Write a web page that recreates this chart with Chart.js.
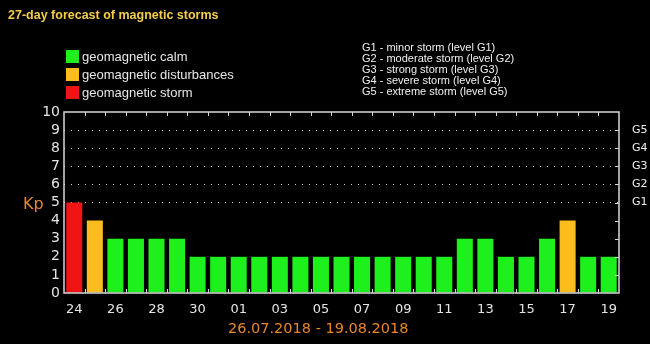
<!DOCTYPE html>
<html>
<head>
<meta charset="utf-8">
<script src="https://cdn.jsdelivr.net/npm/chart.js@4"></script>
<style>
  body { margin: 0; background: #000; }
  #wrap { position: relative; width: 650px; height: 344px; overflow: hidden; }
  #wrap canvas { position: absolute; left: 0; top: 0; }
  .txt { position: absolute; white-space: nowrap; }
  #title { left: 8px; top: 8px; font: bold 12.5px "Liberation Sans", Arial, sans-serif; color: #f2cc4c; }
  .leg { left: 66px; font: 13px "Liberation Sans", Arial, sans-serif; color: #e6e6e6; }
  .leg i { display: inline-block; width: 13px; height: 13px; vertical-align: -2px; margin-right: 3px; }
  .glev { left: 362px; font: 11px "Liberation Sans", Arial, sans-serif; color: #f0f0f0; line-height: 11px; }
  #kp { left: 23px; top: 194px; font: 16px "DejaVu Sans", sans-serif; color: #e8862c; }
  #range { left: 228px; top: 320px; font: 14.5px "DejaVu Sans", sans-serif; color: #e8862c; }
</style>
</head>
<body>
<div id="wrap">
  <canvas id="kpChart"></canvas>
  <div class="txt" id="title">27-day forecast of magnetic storms</div>
  <div class="txt leg" style="top:49px"><i style="background:#1ef01e"></i>geomagnetic calm</div>
  <div class="txt leg" style="top:67px"><i style="background:#fbbd1e"></i>geomagnetic disturbances</div>
  <div class="txt leg" style="top:85px"><i style="background:#f01414"></i>geomagnetic storm</div>
  <div class="txt glev" style="top:42px">
    G1 - minor storm (level G1)<br>
    G2 - moderate storm (level G2)<br>
    G3 - strong storm (level G3)<br>
    G4 - severe storm (level G4)<br>
    G5 - extreme storm (level G5)
  </div>
  <div class="txt" id="kp">Kp</div>
  <div class="txt" id="range">26.07.2018 - 19.08.2018</div>
</div>
<script>
// days of the forecast window, 24 Jul .. 19 Aug
let days = ['24', '25', '26', '27', '28', '29', '30', '31',
    '01', '02', '03', '04', '05', '06', '07', '08', '09', '10',
    '11', '12', '13', '14', '15', '16', '17', '18', '19'];
// forecast Kp index per day
let kpValues = [5, 4, 3, 3, 3, 3, 2, 2,
    2, 2, 2, 2, 2, 2, 2, 2, 2, 2,
    2, 3, 3, 2, 2, 3, 4, 2, 2];
// storm levels shown on the right axis, Kp 5..9
let stormLevels = ['G1', 'G2', 'G3', 'G4', 'G5'];

function kpColor(kp) {
    if (kp >= 5) return '#f01414';
    if (kp >= 4) return '#fbbd1e';
    return '#1ef01e';
}

// frame around the plot with small inward ticks
let framePlugin = {
    id: 'frame',
    afterDraw(chart) {
        let ctx = chart.ctx;
        let a = chart.chartArea;
        let y = chart.scales.y;
        ctx.save();
        ctx.strokeStyle = '#d8d8d8';
        ctx.lineWidth = 1.5;
        ctx.strokeRect(a.left, a.top, a.right - a.left, a.bottom - a.top);
        ctx.lineWidth = 1;
        ctx.beginPath();
        let step = (a.right - a.left) / days.length;
        for (let i = 1; i < days.length; i++) {
            let px = Math.round(a.left + i * step) + 0.5;
            ctx.moveTo(px, a.bottom);
            ctx.lineTo(px, a.bottom - 4);
            ctx.moveTo(px, a.top);
            ctx.lineTo(px, a.top + 4);
        }
        for (let v = 1; v < 10; v++) {
            let py = Math.round(y.getPixelForValue(v)) + 0.5;
            ctx.moveTo(a.right, py);
            ctx.lineTo(a.right - 4, py);
        }
        ctx.stroke();
        ctx.restore();
    }
};

new Chart(document.getElementById('kpChart'), {
    type: 'bar',
    data: {
        labels: days,
        datasets: [{
            data: kpValues,
            backgroundColor: kpValues.map(kpColor),
            barPercentage: 0.78,
            categoryPercentage: 1
        }]
    },
    options: {
        responsive: true,
        maintainAspectRatio: false,
        animation: false,
        layout: { padding: { top: 112, left: 0, right: 0, bottom: 0 } },
        plugins: {
            legend: { display: false },
            tooltip: { enabled: false }
        },
        scales: {
            x: {
                afterFit: (scale) => { scale.height = 51; },
                grid: { display: false },
                border: { display: false },
                ticks: {
                    autoSkip: false,
                    maxRotation: 0,
                    padding: 1,
                    color: '#e4e4e4',
                    font: { family: 'DejaVu Sans', size: 13 },
                    callback: (value, index) => index % 2 === 0 ? days[index] : ''
                }
            },
            y: {
                position: 'left',
                min: 0,
                max: 10,
                afterFit: (scale) => { scale.width = 64; },
                border: { display: false, dash: [1, 6] },
                grid: {
                    drawTicks: false,
                    color: (c) => (c.tick && c.tick.value >= 5 && c.tick.value <= 9) ? '#cfcfcf' : 'rgba(0,0,0,0)'
                },
                ticks: {
                    autoSkip: false,
                    stepSize: 1,
                    padding: 4,
                    color: '#e4e4e4',
                    font: { family: 'DejaVu Sans', size: 14 }
                }
            },
            y2: {
                position: 'right',
                min: 0,
                max: 10,
                afterFit: (scale) => { scale.width = 31; },
                border: { display: false },
                grid: { display: false },
                ticks: {
                    autoSkip: false,
                    stepSize: 1,
                    padding: 5,
                    color: '#f0f0f0',
                    font: { family: 'DejaVu Sans', size: 11 },
                    callback: (value) => (value >= 5 && value <= 9) ? stormLevels[value - 5] : ''
                }
            }
        }
    },
    plugins: [framePlugin]
});
</script>
</body>
</html>
